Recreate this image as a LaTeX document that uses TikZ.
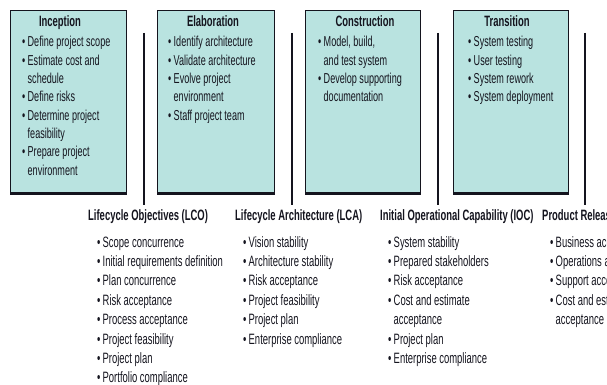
\documentclass[tikz,border=0pt]{standalone}
\usepackage{fontspec}
\setmainfont{Liberation Sans}[FakeStretch=0.63]
\definecolor{phasefill}{RGB}{185,227,224}
\definecolor{inkc}{RGB}{20,20,30}
\newlength\bw
\setlength\bw{5.5pt}
\newcommand\bl{\makebox[\bw][l]{\textbullet}}
\newcommand\cn{\hspace*{\bw}}
\begin{document}
\begin{tikzpicture}[x=1pt,y=-1pt,
    phase/.style={draw=inkc,line width=1.1pt,fill=phasefill,inner sep=0pt,anchor=north west},
    ttl/.style={anchor=base,inner sep=0pt,font=\bfseries\fontsize{15}{16}\selectfont,text=inkc},
    mttl/.style={anchor=base west,inner sep=0pt,font=\bfseries\fontsize{15}{16}\selectfont,text=inkc},
    item/.style={anchor=base west,inner sep=0pt,font=\fontsize{14.4}{16}\selectfont,text=inkc},
    mitem/.style={anchor=base west,inner sep=0pt,font=\fontsize{15}{16}\selectfont,text=inkc},
    mstone/.style={draw=inkc,line width=2.2pt}]
  \useasboundingbox (0,0) rectangle (607,385);
  \clip (0,0) rectangle (607,385);
  % phase boxes
  \node[phase,minimum width=116pt,minimum height=182pt] (inc) at (10,10) {};
  \node[phase,minimum width=117pt,minimum height=182pt] (ela) at (157,10) {};
  \node[phase,minimum width=115pt,minimum height=182pt] (con) at (305,10) {};
  \node[phase,minimum width=115pt,minimum height=182pt] (tra) at (453,10) {};
  \draw[inkc,line width=2.4pt] ([yshift=-0.6pt]inc.south west) to ([yshift=-0.6pt]inc.south east);
  \draw[inkc,line width=2.4pt] ([yshift=-0.6pt]ela.south west) to ([yshift=-0.6pt]ela.south east);
  \draw[inkc,line width=2.4pt] ([yshift=-0.6pt]con.south west) to ([yshift=-0.6pt]con.south east);
  \draw[inkc,line width=2.4pt] ([yshift=-0.6pt]tra.south west) to ([yshift=-0.6pt]tra.south east);
  % Inception
  \node[ttl] (inct) at (60,26.5) {Inception};
  \node[item] (inc1) at (22,47) {\bl Define project scope};
  \node[item] (inc2) at (22,65.3) {\bl Estimate cost and};
  \node[item] (inc3) at (22,83.6) {\cn schedule};
  \node[item] (inc4) at (22,101.9) {\bl Define risks};
  \node[item] (inc5) at (22,120.2) {\bl Determine project};
  \node[item] (inc6) at (22,138.5) {\cn feasibility};
  \node[item] (inc7) at (22,156.8) {\bl Prepare project};
  \node[item] (inc8) at (22,175.1) {\cn environment};
  % Elaboration
  \node[ttl] (elat) at (213,26.5) {Elaboration};
  \node[item] (ela1) at (168,47) {\bl Identify architecture};
  \node[item] (ela2) at (168,65.3) {\bl Validate architecture};
  \node[item] (ela3) at (168,83.6) {\bl Evolve project};
  \node[item] (ela4) at (168,101.9) {\cn environment};
  \node[item] (ela5) at (168,120.2) {\bl Staff project team};
  % Construction
  \node[ttl] (cont) at (365,26.5) {Construction};
  \node[item] (con1) at (318,47) {\bl Model, build,};
  \node[item] (con2) at (318,65.3) {\cn and test system};
  \node[item] (con3) at (318,83.6) {\bl Develop supporting};
  \node[item] (con4) at (318,101.9) {\cn documentation};
  % Transition
  \node[ttl] (trat) at (507,26.5) {Transition};
  \node[item] (tra1) at (468,47) {\bl System testing};
  \node[item] (tra2) at (468,65.3) {\bl User testing};
  \node[item] (tra3) at (468,83.6) {\bl System rework};
  \node[item] (tra4) at (468,101.9) {\bl System deployment};
  % milestone lines
  \coordinate (lcotop) at (144,33);
  \coordinate (lcobot) at (144,205);
  \coordinate (lcatop) at (292,33);
  \coordinate (lcabot) at (292,205);
  \coordinate (ioctop) at (438,33);
  \coordinate (iocbot) at (438,205);
  \coordinate (prtop) at (585,33);
  \coordinate (prbot) at (585,205);
  \draw[mstone] (lcotop) to (lcobot);
  \draw[mstone] (lcatop) to (lcabot);
  \draw[mstone] (ioctop) to (iocbot);
  \draw[mstone] (prtop) to (prbot);
  % Lifecycle Objectives
  \node[mttl] (lco) at (88,220.5) {Lifecycle Objectives (LCO)};
  \node[mitem] (lco1) at (97,247) {\bl Scope concurrence};
  \node[mitem] (lco2) at (97,266.4) {\bl Initial requirements definition};
  \node[mitem] (lco3) at (97,285.8) {\bl Plan concurrence};
  \node[mitem] (lco4) at (97,305.2) {\bl Risk acceptance};
  \node[mitem] (lco5) at (97,324.6) {\bl Process acceptance};
  \node[mitem] (lco6) at (97,344.0) {\bl Project feasibility};
  \node[mitem] (lco7) at (97,363.4) {\bl Project plan};
  \node[mitem] (lco8) at (97,382.6) {\bl Portfolio compliance};
  % Lifecycle Architecture
  \node[mttl] (lca) at (235,220.5) {Lifecycle Architecture (LCA)};
  \node[mitem] (lca1) at (243,247) {\bl Vision stability};
  \node[mitem] (lca2) at (243,266.4) {\bl Architecture stability};
  \node[mitem] (lca3) at (243,285.8) {\bl Risk acceptance};
  \node[mitem] (lca4) at (243,305.2) {\bl Project feasibility};
  \node[mitem] (lca5) at (243,324.6) {\bl Project plan};
  \node[mitem] (lca6) at (243,344.0) {\bl Enterprise compliance};
  % Initial Operational Capability
  \node[mttl] (ioc) at (380,220.5) {Initial Operational Capability (IOC)};
  \node[mitem] (ioc1) at (388,247) {\bl System stability};
  \node[mitem] (ioc2) at (388,266.4) {\bl Prepared stakeholders};
  \node[mitem] (ioc3) at (388,285.8) {\bl Risk acceptance};
  \node[mitem] (ioc4) at (388,305.2) {\bl Cost and estimate};
  \node[mitem] (ioc5) at (388,324.6) {\cn acceptance};
  \node[mitem] (ioc6) at (388,344.0) {\bl Project plan};
  \node[mitem] (ioc7) at (388,363.4) {\bl Enterprise compliance};
  % Product Release
  \node[mttl] (pr) at (542,220.5) {Product Releas};
  \node[mitem] (pr1) at (550,247) {\bl Business acc};
  \node[mitem] (pr2) at (550,266.4) {\bl Operations a};
  \node[mitem] (pr3) at (550,285.8) {\bl Support acce};
  \node[mitem] (pr4) at (550,305.2) {\bl Cost and est};
  \node[mitem] (pr5) at (550,324.6) {\cn acceptance};
\end{tikzpicture}
\end{document}
